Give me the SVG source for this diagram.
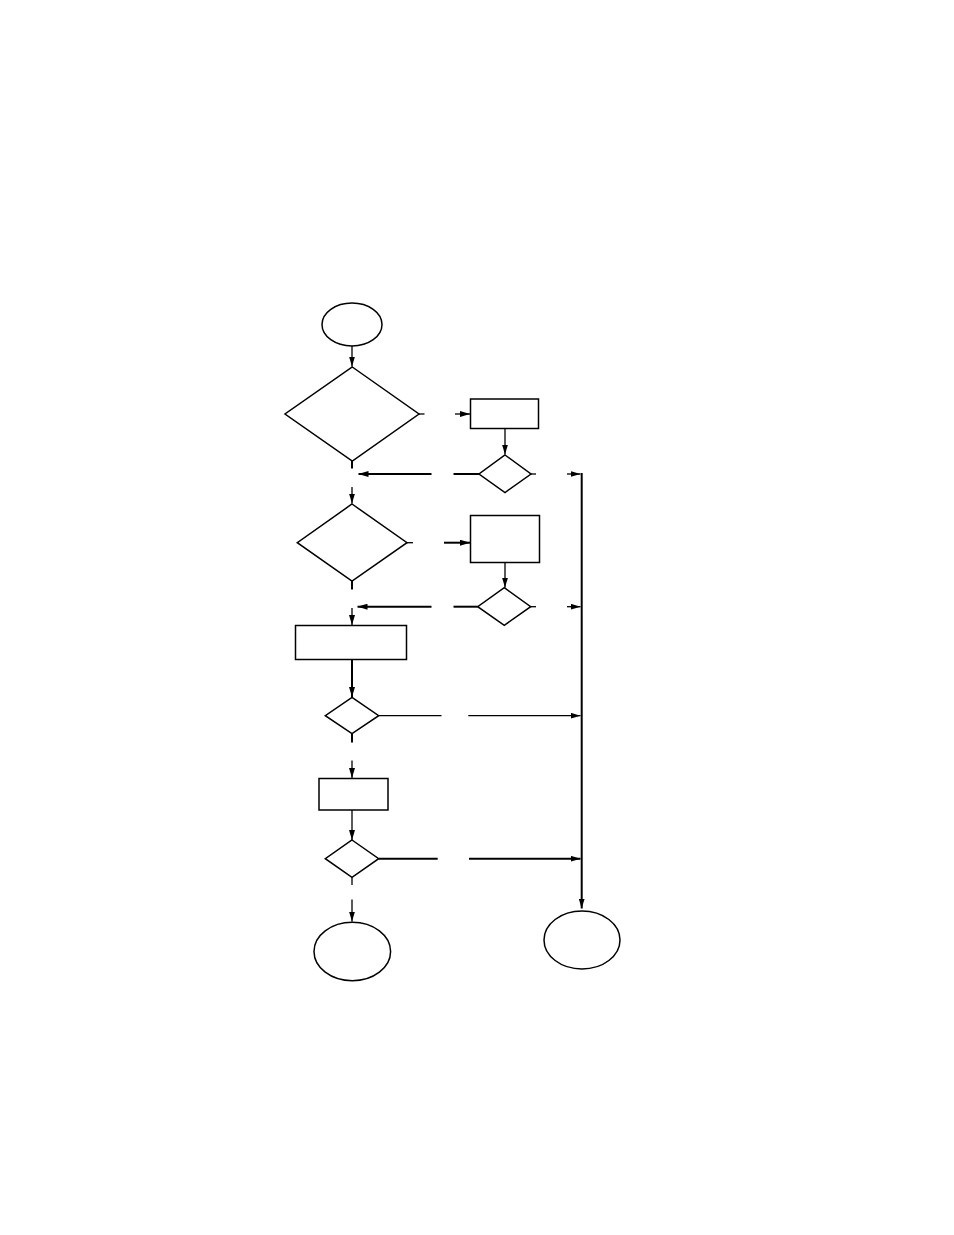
<svg xmlns="http://www.w3.org/2000/svg" width="954" height="1235" viewBox="0 0 954 1235">
<style>
.s{fill:#fff;stroke:#000;stroke-width:1.5}
.c{fill:none;stroke:#000;stroke-width:1.3}
.t{fill:none;stroke:#000;stroke-width:2}
</style>
<defs>
<marker id="a" viewBox="0 0 10 6" refX="10" refY="3" markerWidth="10" markerHeight="6" markerUnits="userSpaceOnUse" orient="auto"><path d="M0,0L10,3L0,6Z" fill="#000"/></marker>
</defs>
<rect width="954" height="1235" fill="#fff"/>
<g id="connectors">
<path class="c" d="M352,346V366.5" marker-end="url(#a)"/>
<path class="c" d="M419,414H424.5"/>
<path class="c" d="M455,414H470" marker-end="url(#a)"/>
<path class="c" d="M505,428.5V454.5" marker-end="url(#a)"/>
<path class="t" d="M352,461V468.5"/>
<path class="c" d="M352,487V503.5" marker-end="url(#a)"/>
<path class="t" d="M479,474H453.5"/>
<path class="t" d="M431.5,474H358.5" marker-end="url(#a)"/>
<path class="c" d="M531,474H536"/>
<path class="c" d="M567,474H580.5" marker-end="url(#a)"/>
<path class="t" d="M581.7,473V908.5" marker-end="url(#a)"/>
<path class="c" d="M407,542.7H413"/>
<path class="t" d="M444,542.7H470" marker-end="url(#a)"/>
<path class="c" d="M505,562.5V587.5" marker-end="url(#a)"/>
<path class="t" d="M477.7,606.7H453.5"/>
<path class="t" d="M431.5,606.7H357.5" marker-end="url(#a)"/>
<path class="c" d="M530.7,606.7H536"/>
<path class="c" d="M567,606.7H580.5" marker-end="url(#a)"/>
<path class="t" d="M352,581V589.5"/>
<path class="c" d="M352,608V625" marker-end="url(#a)"/>
<path class="t" d="M352,659.5V697" marker-end="url(#a)"/>
<path class="c" d="M378.7,715.7H441.5" stroke="#444"/>
<path class="c" d="M468.3,715.7H580.5" marker-end="url(#a)"/>
<path class="t" d="M352,733.7V742.5"/>
<path class="c" d="M352,760.5V778" marker-end="url(#a)"/>
<path class="c" d="M352,810V840" marker-end="url(#a)"/>
<path class="t" d="M378.7,858.7H437.7"/>
<path class="t" d="M469,858.7H580.5" marker-end="url(#a)"/>
<path class="c" d="M352,877.3V885"/>
<path class="c" d="M352,899.5V921.5" marker-end="url(#a)"/>
</g>
<g id="start"><ellipse class="s" cx="352" cy="324.5" rx="30" ry="21.5"/></g>
<g id="decision1"><polygon class="s" points="352.3,367 419,414 352.3,461 285,414"/></g>
<g id="process1"><rect class="s" x="470.5" y="399" width="68" height="29.5"/></g>
<g id="decision2"><polygon class="s" points="505,455 531,474 505,492.5 479,474"/></g>
<g id="decision3"><polygon class="s" points="352,504 407,542.7 352,581 297.3,542.7"/></g>
<g id="process2"><rect class="s" x="470.5" y="515.5" width="69" height="47"/></g>
<g id="decision4"><polygon class="s" points="504.3,587.7 530.7,606.7 504.3,625.3 477.7,606.7"/></g>
<g id="process3"><rect class="s" x="295.5" y="625.5" width="111" height="34"/></g>
<g id="decision5"><polygon class="s" points="352,697.3 378.7,715.7 352,733.7 325.3,715.7"/></g>
<g id="process4"><rect class="s" x="319" y="778.5" width="69" height="31.5"/></g>
<g id="decision6"><polygon class="s" points="352,840 378.7,858.7 352,877.3 325.3,858.7"/></g>
<g id="end1"><ellipse class="s" cx="352.3" cy="951.5" rx="38.3" ry="29.2"/></g>
<g id="end2"><ellipse class="s" cx="582" cy="940" rx="38" ry="29"/></g>
</svg>
